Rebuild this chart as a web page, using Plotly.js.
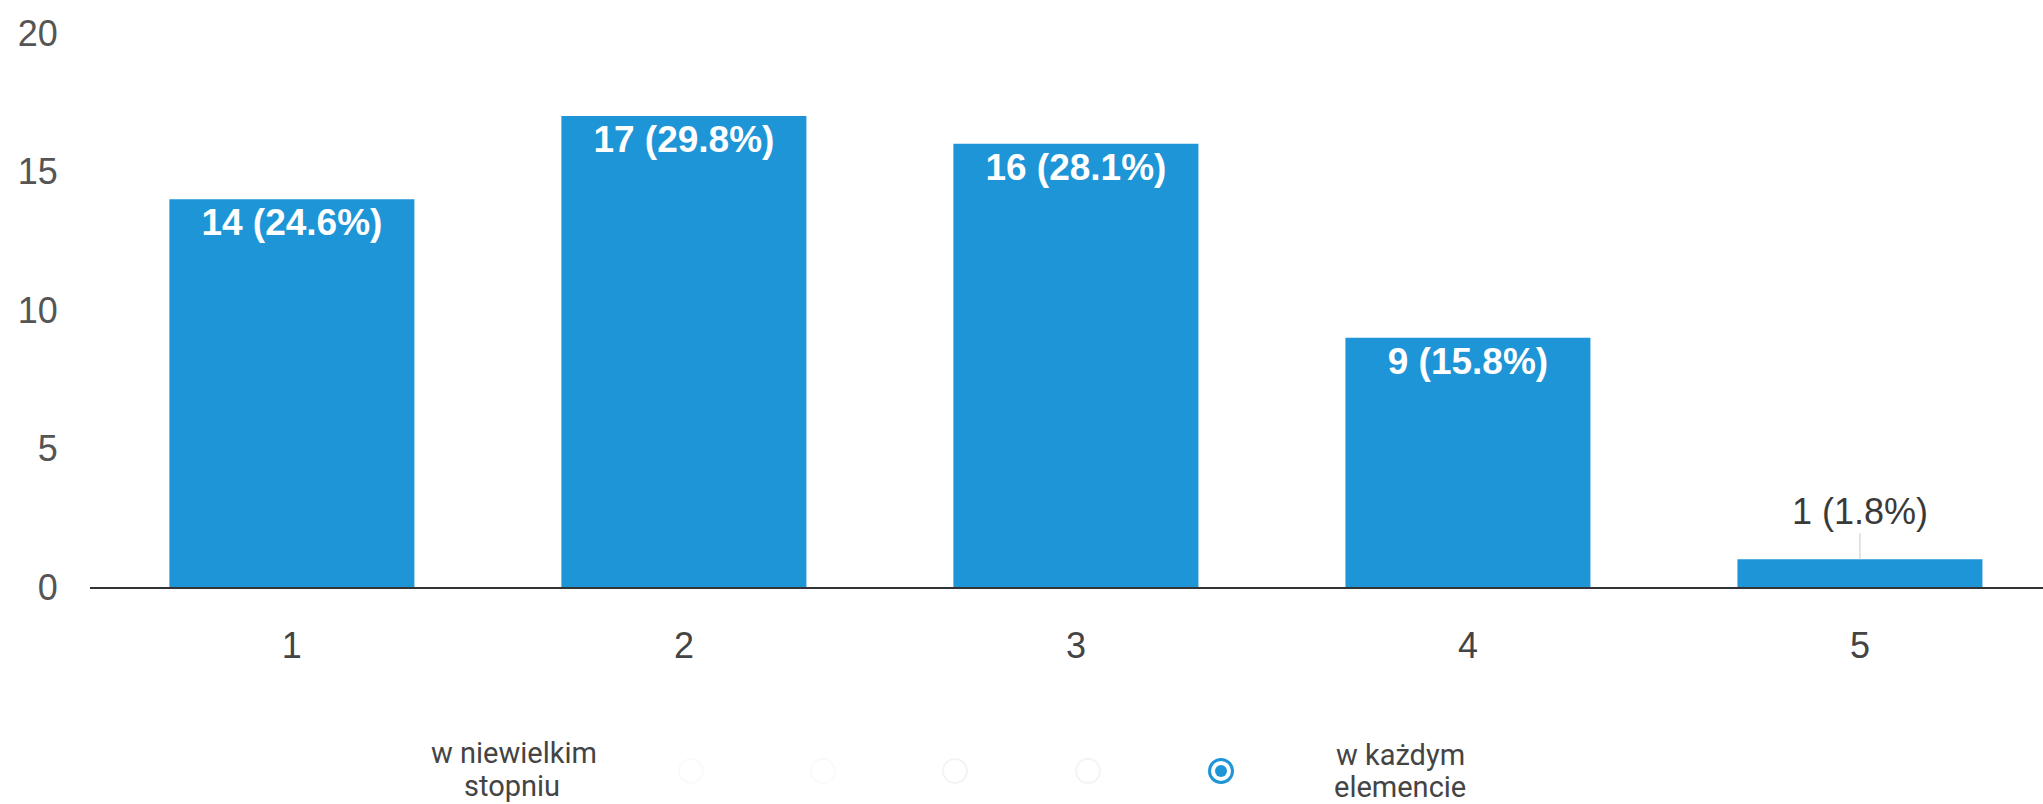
<!DOCTYPE html>
<html>
<head>
<meta charset="utf-8">
<script src="https://cdn.plot.ly/plotly-3.0.1.min.js"></script>
<style>
  html, body { margin: 0; padding: 0; background: #ffffff; }
  #chart { width: 2043px; height: 804px; }
</style>
</head>
<body>
<div id="chart"></div>
<script>
// ---- data ----
const categories = ['1', '2', '3', '4', '5'];
const counts = [14, 17, 16, 9, 1];
const percents = [24.6, 29.8, 28.1, 15.8, 1.8];
const yTickValues = [0, 5, 10, 15, 20];
const scaleLowLabel = ['w niewielkim', 'stopniu'];
const scaleHighLabel = ['w każdym', 'elemencie'];

// ---- layout geometry ----
const W = 2043, H = 804;
const M = { l: 90, r: 0, t: 33, b: 217 };
const plotW = W - M.l - M.r, plotH = H - M.t - M.b;
const px = x => (x - M.l) / plotW;
const py = y => (H - M.b - y) / plotH;

const barColor = '#1e95d7';
const labels = counts.map((c, i) => c + ' (' + percents[i].toFixed(1) + '%)');
const insideMin = 3;
const insideText = counts.map((c, i) => c >= insideMin ? labels[i] : '');

const annotations = [];
counts.forEach((c, i) => {
  if (c < insideMin) {
    annotations.push({
      x: i, y: c, xref: 'x', yref: 'y',   // category index on the category axis
      text: labels[i], showarrow: true, arrowhead: 0, arrowwidth: 1,
      arrowcolor: '#c8c8c8', ax: 0, ay: -48,
      font: { family: 'Liberation Sans, Arial, sans-serif', size: 36, color: '#3a3a3a' }
    });
  }
});

// scale labels at bottom
function addLabel(text, x, y) {
  annotations.push({
    xref: 'paper', yref: 'paper', x: px(x), y: py(y), showarrow: false,
    xanchor: 'center', yanchor: 'middle', text: text,
    font: { family: 'Roboto, Liberation Sans, sans-serif', size: 29, color: '#444444' }
  });
}
addLabel(scaleLowLabel[0], 514, 753);
addLabel(scaleLowLabel[1], 512, 786);
addLabel(scaleHighLabel[0], 1400, 755);
addLabel(scaleHighLabel[1], 1400, 787);

// radio buttons
const shapes = [];
function circle(cx, cy, r, opts) {
  shapes.push(Object.assign({
    type: 'circle', xref: 'paper', yref: 'paper',
    x0: px(cx - r), x1: px(cx + r), y0: py(cy + r), y1: py(cy - r)
  }, opts));
}
[691, 823, 955, 1088].forEach((cx, i) => {
  circle(cx, 771, 12, { line: { color: i < 2 ? '#fafafa' : '#f4f4f4', width: 2 }, fillcolor: 'rgba(0,0,0,0)' });
});
circle(1221, 771, 11.5, { line: { color: '#1e95d7', width: 3 }, fillcolor: '#ffffff' });
circle(1221, 771, 6, { line: { color: '#1e95d7', width: 0 }, fillcolor: '#1e95d7' });

const trace = {
  type: 'bar',
  x: categories,
  y: counts,
  width: 0.625,
  marker: { color: barColor },
  text: insideText,
  textposition: 'inside',
  insidetextanchor: 'end',
  textangle: 0,
  constraintext: 'none',
  insidetextfont: { family: 'Liberation Sans, Arial, sans-serif', size: 37, color: '#ffffff', weight: 'bold' },
  hoverinfo: 'none'
};

const layout = {
  width: W, height: H,
  margin: M,
  paper_bgcolor: '#ffffff',
  plot_bgcolor: '#ffffff',
  showlegend: false,
  bargap: 0.375,
  font: { family: 'Liberation Sans, Arial, sans-serif', size: 36, color: '#555555' },
  xaxis: {
    type: 'category',
    range: [-0.515, 4.467],
    showgrid: false,
    zeroline: false,
    showline: true,
    linecolor: '#333333',
    linewidth: 2,
    ticks: 'outside',
    ticklen: 26,
    tickcolor: 'rgba(0,0,0,0)',
    tickfont: { family: 'Liberation Sans, Arial, sans-serif', size: 36, color: '#444444' },
    fixedrange: true
  },
  yaxis: {
    range: [0, 20],
    tickvals: yTickValues,
    showgrid: false,
    zeroline: false,
    showline: false,
    ticks: 'outside',
    ticklen: 24,
    tickcolor: 'rgba(0,0,0,0)',
    tickfont: { family: 'Liberation Sans, Arial, sans-serif', size: 36, color: '#555555' },
    fixedrange: true
  },
  annotations: annotations,
  shapes: shapes
};

Plotly.newPlot('chart', [trace], layout, { displayModeBar: false, staticPlot: true });
</script>
</body>
</html>
